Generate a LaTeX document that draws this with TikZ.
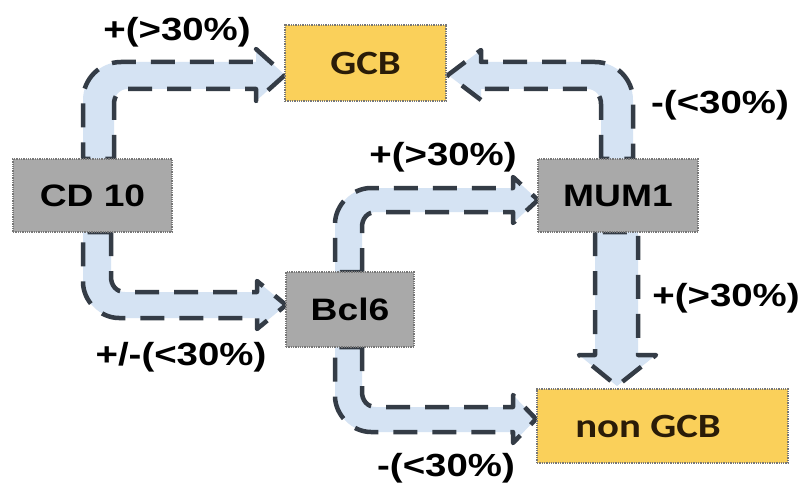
\documentclass[tikz,border=0pt]{standalone}
\usepackage{fontspec}
\setmainfont{Liberation Sans}
\newfontfamily\calib{Carlito}
\definecolor{arrowblue}{HTML}{D5E3F3}
\definecolor{arrowline}{HTML}{343C46}
\definecolor{boxgray}{HTML}{A9A9A9}
\definecolor{boxyellow}{HTML}{FAD05A}
\definecolor{boxline}{HTML}{777777}
\definecolor{darktext}{HTML}{2A1C08}
\newcommand\sx[1]{\scalebox{1.2}[1]{#1}}
\begin{document}
\begin{tikzpicture}[x=1pt,y=-1pt,
  fat/.style={fill=arrowblue, draw=arrowline, line width=4.5pt, dash pattern=on 24pt off 15pt, line join=round},
  box/.style={draw=boxline, densely dotted, line width=1.3pt, inner sep=0pt},
  graybox/.style={box, fill=boxgray, text=black, font=\fontsize{31}{36}\selectfont\bfseries},
  yelbox/.style={box, fill=boxyellow, text=darktext, font=\calib\fontsize{34}{40}\selectfont\bfseries},
  lab/.style={inner sep=0pt, text=black, font=\fontsize{32}{38}\selectfont\bfseries}]
\useasboundingbox (0,0) rectangle (802,489);
\fill[white] (0,0) rectangle (802,489);
% fat arrows
% CD10 -> GCB
\draw[fat] (114,159) -- (114,104) .. controls (114,96) and (119,89) .. (128,89) -- (256,89) -- (256,101)
  -- (285,75) -- (256,49) -- (256,62) -- (121,62) .. controls (100,62) and (83,79) .. (83,100) -- (83,159) -- cycle;
% MUM1 -> GCB
\draw[fat] (601,159) -- (601,104) .. controls (601,96) and (596,89) .. (587,89) -- (481,89) -- (481,100)
  -- (448,75) -- (481,50) -- (481,62) -- (595,62) .. controls (616,62) and (633,79) .. (633,100) -- (633,159) -- cycle;
% Bcl6 -> MUM1
\draw[fat] (362,272) -- (362,227) .. controls (362,219) and (367,212) .. (376,212) -- (513,212) -- (513,223)
  -- (538,200) -- (513,177) -- (513,188) -- (371,188) .. controls (352,188) and (335,205) .. (335,224) -- (335,272) -- cycle;
% CD10 -> Bcl6
\draw[fat] (111,232) -- (111,277) .. controls (111,285) and (116,292) .. (125,292) -- (257,292) -- (257,281)
  -- (286,305) -- (257,329) -- (257,318) -- (119,318) .. controls (100,318) and (83,301) .. (83,282) -- (83,232) -- cycle;
% Bcl6 -> non GCB
\draw[fat] (362,347) -- (362,392) .. controls (362,400) and (367,407) .. (376,407) -- (513,407) -- (513,395)
  -- (536,419) -- (513,443) -- (513,432) -- (371,432) .. controls (352,432) and (335,415) .. (335,396) -- (335,347) -- cycle;
% MUM1 -> non GCB
\draw[fat] (595,232) -- (595,355) -- (579,355) -- (617,386) -- (656,355) -- (638,355) -- (638,232) -- cycle;
% boxes
\node[yelbox, minimum width=161pt, minimum height=76pt] (gcb) at (365.5,63) {\sx{GCB}};
\node[graybox, minimum width=159pt, minimum height=73pt] (cd) at (92.5,195.5) {\sx{CD 10}};
\node[graybox, minimum width=160pt, minimum height=73pt] (mum) at (618,195.5) {\sx{MUM1}};
\node[graybox, minimum width=128pt, minimum height=75pt] (bcl) at (350,309.5) {\sx{Bcl6}};
\node[yelbox, minimum width=251pt, minimum height=74pt] (ngcb) at (662.5,426) {};
\node[inner sep=0pt, text=darktext, font=\calib\fontsize{34}{40}\selectfont\bfseries] (ngcbt) at (648,426) {\sx{non GCB}};
% labels
\node[lab] (l1) at (177,32) {\sx{+(>30\%)}};
\node[lab] (l2) at (720,105) {\sx{-(<30\%)}};
\node[lab] (l3) at (443,157) {\sx{+(>30\%)}};
\node[lab] (l4) at (181,357) {\sx{+/-(<30\%)}};
\node[lab] (l5) at (726,298) {\sx{+(>30\%)}};
\node[lab] (l6) at (446,468) {\sx{-(<30\%)}};
\end{tikzpicture}
\end{document}
